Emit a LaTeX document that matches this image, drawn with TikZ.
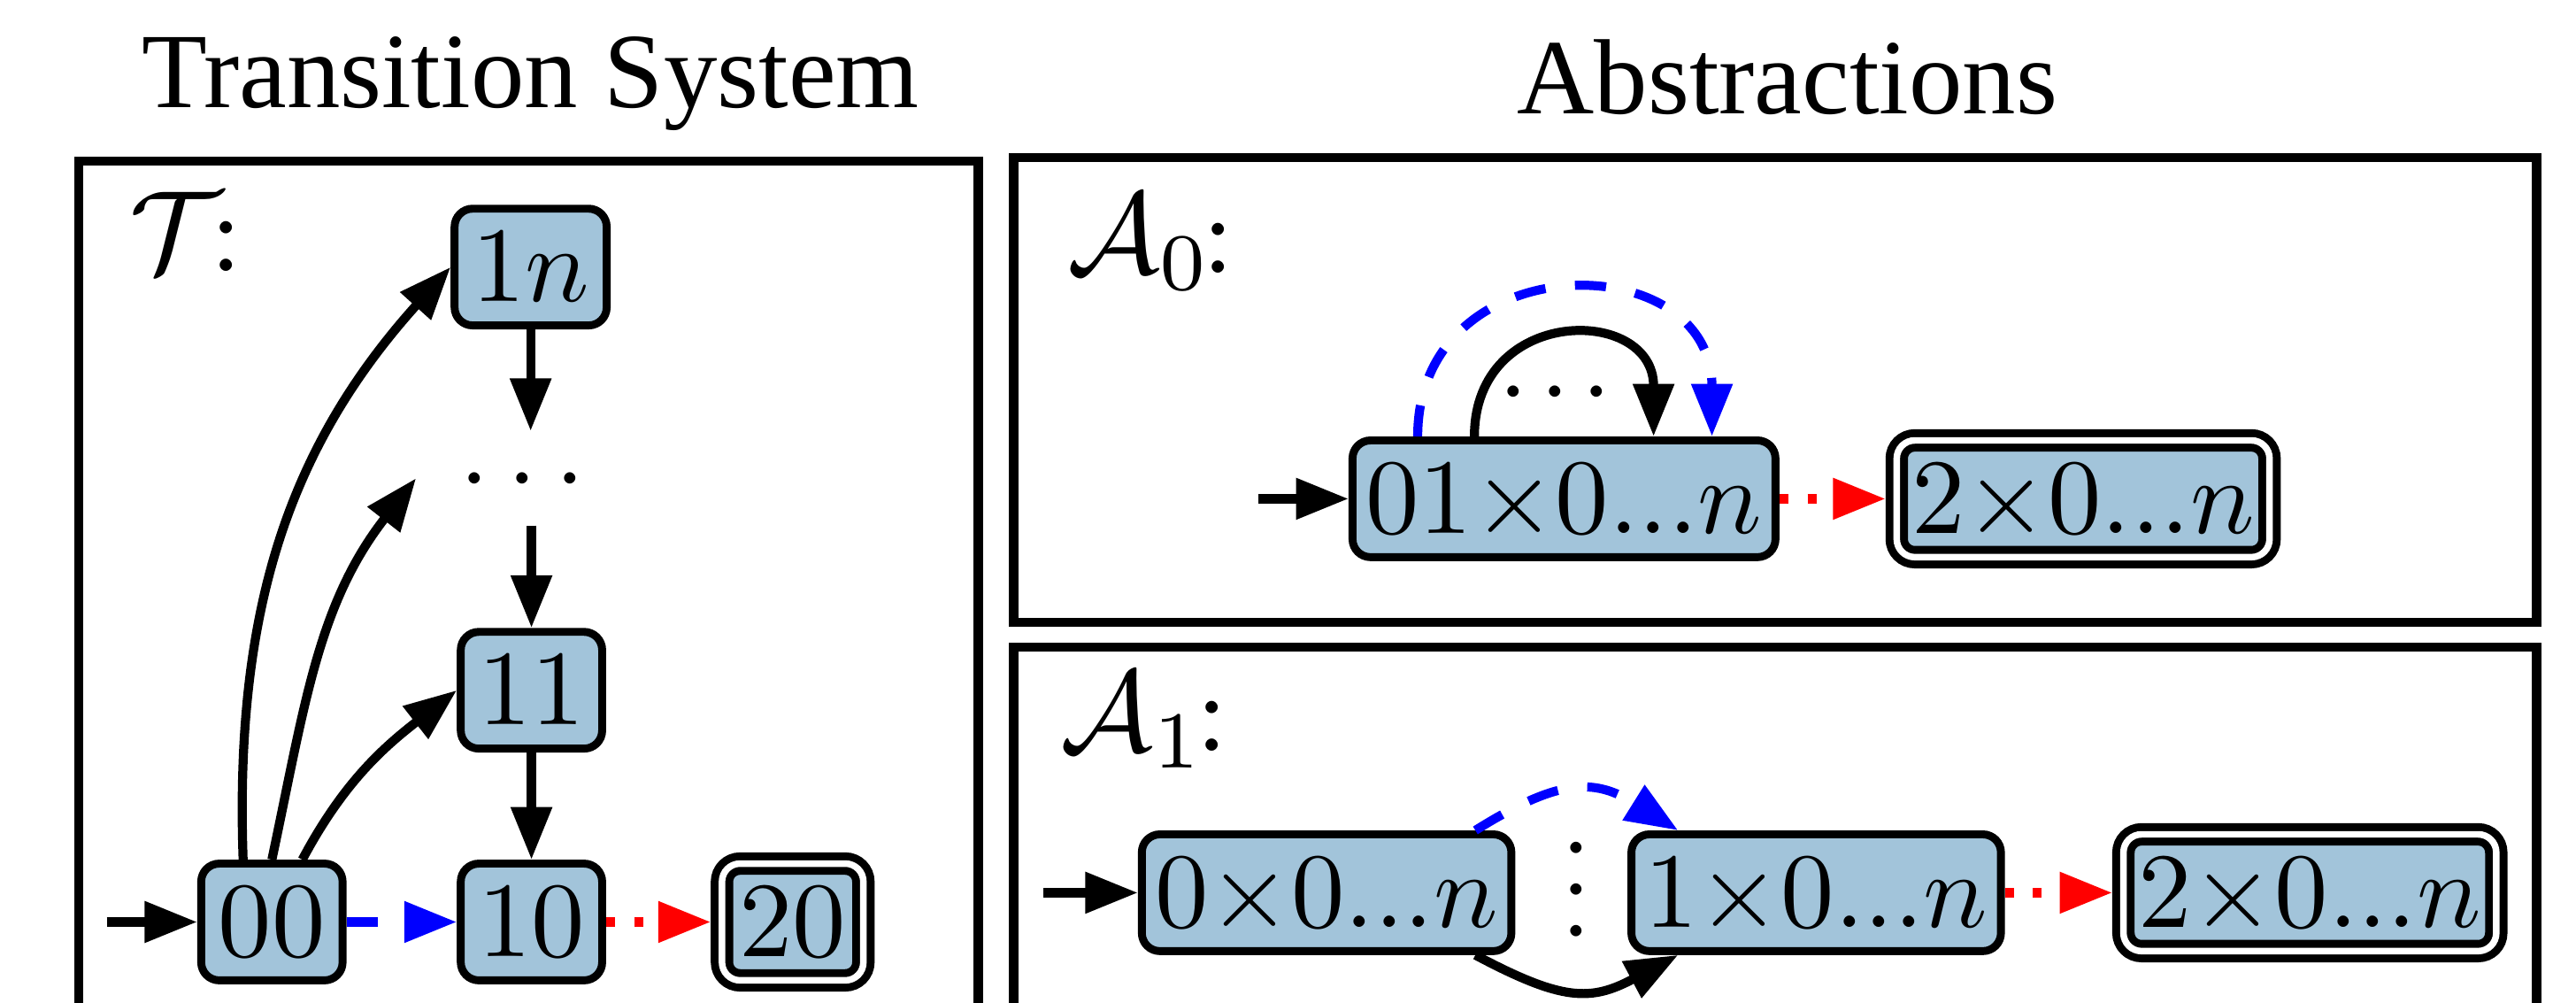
\documentclass[tikz,border=0pt]{standalone}
\usepackage[no-math]{fontspec}
\usepackage{graphicx}
\usetikzlibrary{arrows.meta}
\newfontfamily\titlefont{Liberation Serif}
\definecolor{stfill}{RGB}{162,196,218}
\newcommand{\Sc}[1]{\scalebox{1.85}{#1}}
\newcommand{\Sl}[1]{\scalebox{2}{#1}}
\begin{document}
\begin{tikzpicture}[x=0.01cm,y=0.01cm,
  stnode/.style={draw, line width=0.048cm, fill=stfill, rounded corners=0.11cm,
    inner xsep=0.105cm, inner ysep=0.145cm, text height=0.42cm, text depth=0cm},
  wnode/.style={stnode, inner xsep=0.08cm},
  accnode/.style={double=white, double distance=0.04cm, line width=0.048cm, outer sep=0.068cm},
  boxline/.style={draw, line width=0.055cm},
  arrtip/.style={-{Triangle[length=0.32cm,width=0.24cm]}},
  arr/.style={arrtip, line width=0.055cm},
  barr/.style={arr, blue, dash pattern=on 0.19cm off 0.18cm},
  rarr/.style={arr, red, dash pattern=on 0.054cm off 0.117cm},
  ttl/.style={font=\titlefont\fontsize{18.5}{22}\selectfont, inner sep=0, anchor=base},
  lbl/.style={inner sep=0, anchor=base west}
]
\useasboundingbox (0,0) rectangle (1568,-610);
\clip (0,0) rectangle (1568,-610);

% frames
\draw[boxline] (48,-98) rectangle (595.5,-660);
\draw[boxline] (617,-95.8) rectangle (1544,-378.6);
\draw[boxline] (617,-393.6) rectangle (1544,-660);

% titles
\node[ttl] (t1) at (323,-65.5) {Transition System};
\node[ttl] (t2) at (1088,-69) {Abstractions};

% ---------- Transition system ----------
\node[lbl] (lT) at (78,-165) {\Sl{$\mathcal{T}$\kern-0.1em:}};
\node[stnode] (n1n) at (323,-162.5) {\Sc{$1n$}};
\node[inner sep=0, text height=0.325cm, text depth=0cm, minimum height=0.56cm,
  minimum width=1.28cm] (ndots) at (318,-291) {\Sc{$\cdots$}};
\node[stnode] (n11) at (323.5,-420) {\Sc{$11$}};
\node[stnode] (n00) at (165.5,-561) {\Sc{$00$}};
\node[stnode] (n10) at (323.5,-561) {\Sc{$10$}};
\node[stnode, accnode] (n20) at (482.5,-561) {\Sc{$20$}};

\coordinate (i00) at (65,-561);
\draw[arr] (i00) -- (n00);
\draw[arr] (n1n.south) -- (n1n.south |- ndots.north);
\draw[arr] (n11.north |- ndots.south) -- (n11.north);
\draw[arr] (n11) -- (n10);
\draw[barr] (n00) -- (n10);
\draw[rarr] (n10) -- (n20);
\draw[arr] ([xshift=-0.175cm]n00.north) to[out=92,in=228] (n1n.west);
\draw[arr] (n00.north) to[out=78,in=232] (ndots.west);
\draw[arr] ([xshift=0.185cm]n00.north) to[out=62,in=218] (n11.west);

% ---------- A0 ----------
\node[lbl] (lA0) at (649,-166) {\Sl{$\mathcal{A}_0$\kern-0.08em:}};
\node[wnode] (a01) at (952,-303.5) {\Sc{$01{\times}0...n$}};
\node[wnode, accnode, inner xsep=0.09cm] (a2) at (1268,-303.5) {\Sc{$2{\times}0...n$}};
\coordinate (ia) at (766,-303.5);
\draw[arr] (ia) -- (a01);
\draw[rarr] (a01) -- (a2);
\draw[barr] ([xshift=-0.89cm]a01.north) .. controls +(0,117) and +(0,117) .. ([xshift=0.9cm]a01.north);
\draw[arr] ([xshift=-0.545cm]a01.north) .. controls +(0,80) and +(0,80) .. ([xshift=0.545cm]a01.north);
\node[inner sep=0, anchor=base] (ldots) at (946.5,-254.5) {\Sc{$\cdotp\mkern-1mu\cdotp\mkern-1mu\cdotp$}};

% ---------- A1 ----------
\node[lbl] (lA1) at (645,-457) {\Sl{$\mathcal{A}_1$\kern-0.08em:}};
\node[wnode] (b0) at (807.5,-543.2) {\Sc{$0{\times}0...n$}};
\node[wnode] (b1) at (1105.5,-543.2) {\Sc{$1{\times}0...n$}};
\node[wnode, accnode, inner xsep=0.09cm] (b2) at (1406,-543.2) {\Sc{$2{\times}0...n$}};
\node[inner sep=0] (vd) at (961.5,-541) {\rotatebox{90}{\Sc{$\cdotp\mkern-1mu\cdotp\mkern-1mu\cdotp$}}};
\coordinate (ib) at (635,-543.2);
\draw[arr] (ib) -- (b0);
\draw[rarr] (b1) -- (b2);
\draw[barr] ([xshift=0.905cm]b0.north) to[out=32,in=148,looseness=1.25] ([xshift=-0.84cm]b1.north);
\draw[arr] ([xshift=0.905cm]b0.south) to[out=-28,in=-152,looseness=1.25] ([xshift=-0.84cm]b1.south);
\end{tikzpicture}
\end{document}
